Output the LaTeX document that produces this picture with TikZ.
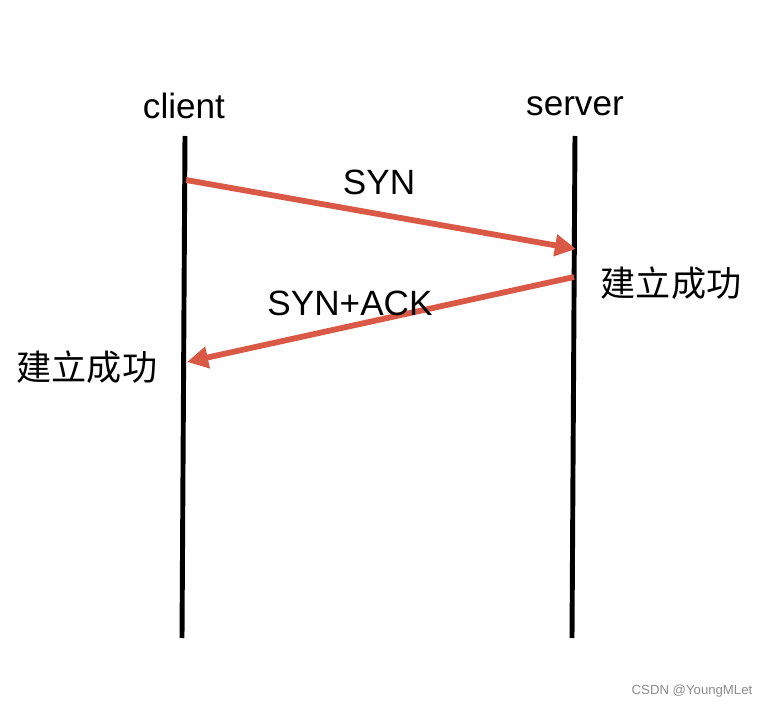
\documentclass[tikz,border=0pt]{standalone}
\usepackage{fontspec}
\setmainfont{Liberation Sans}
\newfontfamily\cjk{Noto Sans CJK SC}
\usepackage{xcolor}
\definecolor{r}{RGB}{218,88,70}
\usepackage{tikz}
\usetikzlibrary{arrows.meta, positioning, calc}

\begin{document}
\begin{tikzpicture}[
    x=0.02cm, y=-0.02cm,
    lifeline/.style={line width=2.8pt},
    msg/.style={draw=r, line width=3.3pt, -{Triangle[length=12pt, width=12pt]}},
    lbl/.style={font=\fontsize{20}{24}\selectfont, inner sep=0pt}
    ]

    \useasboundingbox (0,0) rectangle (772,710);

    \node[lbl] (client) at (184,106) {client};
    \node[lbl] (server) at (575,106) {server};

    \coordinate (ctop) at (185,136);
    \coordinate (cbot) at (182,638);
    \coordinate (stop) at (575,136);
    \coordinate (sbot) at (572,638);
    \draw[lifeline] (ctop) -- (cbot);
    \draw[lifeline] (stop) -- (sbot);

    \coordinate (syn0) at (186,180);
    \coordinate (syn1) at (576,249);
    \coordinate (ack0) at (574,277);
    \coordinate (ack1) at (187,362);
    \draw[msg] (syn0) -- (syn1);
    \draw[msg] (ack0) -- (ack1);

    \node[lbl] (syn) at (379,182) {SYN};
    \node[lbl] (synack) at (350,303) {SYN+ACK};
    \node[lbl] (sok) at (671,283) {\cjk 建立成功};
    \node[lbl] (cok) at (87,367) {\cjk 建立成功};

    \node[font=\fontsize{7.5}{9}\selectfont, text=black!45, inner sep=0pt] (mark) at (692,691) {CSDN @YoungMLet};
\end{tikzpicture}
\end{document}
